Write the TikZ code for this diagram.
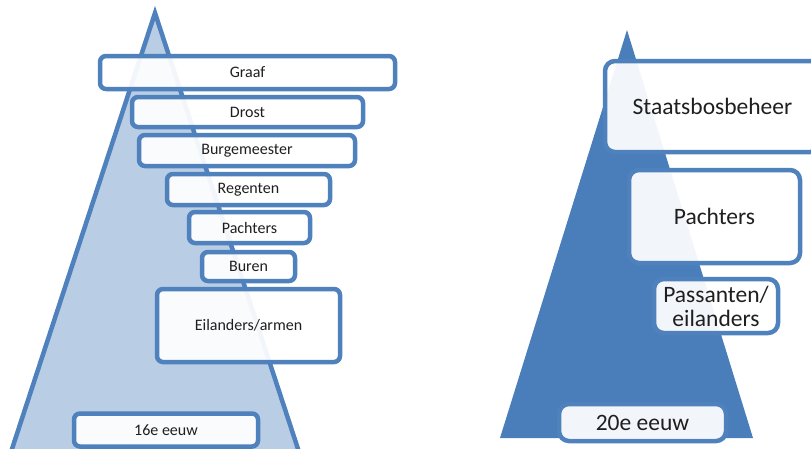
\documentclass[tikz,border=0pt]{standalone}
\usepackage{fontspec}
\setmainfont{Carlito}
\definecolor{bord}{HTML}{4F81BD}
\definecolor{lightfill}{HTML}{B9CDE5}
\definecolor{darkfill}{HTML}{4A7EBB}
\definecolor{txt}{HTML}{1F1F1F}
\tikzset{
  lbox/.style={draw=bord, line width=4.5pt, rounded corners=6pt, fill=white, fill opacity=0.93, text opacity=1, text=txt, font=\fontsize{16}{18}\selectfont, inner sep=0pt},
  rbox/.style={draw=bord, line width=4.5pt, rounded corners=10pt, fill=white, fill opacity=0.93, text opacity=1, text=txt, font=\fontsize{23.5}{24}\selectfont, inner sep=0pt, align=center},
  tri/.style={line width=4.5pt, line join=miter}
}
\begin{document}
\begin{tikzpicture}[x=1pt,y=-1pt]
\useasboundingbox (0,0) rectangle (811,448);
\clip (0,0) rectangle (811,448);
% left triangle
\coordinate (lapex) at (155,13);
\coordinate (lbl) at (11,452);
\coordinate (lbr) at (299,452);
\draw[tri, draw=bord, fill=lightfill] (lapex) -- (lbr) -- (lbl) -- cycle;
% right triangle
\coordinate (rapex) at (627,30);
\coordinate (rbl) at (500,438);
\coordinate (rbr) at (753,438);
\fill[darkfill] (rapex) -- (rbr) -- (rbl) -- cycle;
% left boxes
\node[lbox, minimum width=295pt, minimum height=33pt] (graaf) at (247.5,72.5) {Graaf};
\node[lbox, minimum width=231pt, minimum height=30pt] (drost) at (247.5,112) {Drost};
\node[lbox, minimum width=216pt, minimum height=31pt] (burg) at (247,150.5) {Burgemeester};
\node[lbox, minimum width=163pt, minimum height=31pt] (reg) at (248.5,189.5) {Regenten};
\node[lbox, minimum width=121pt, minimum height=31pt] (pachtL) at (249.5,227.5) {Pachters};
\node[lbox, minimum width=93pt, minimum height=29pt] (buren) at (248.5,266.5) {Buren};
\node[lbox, minimum width=183pt, minimum height=73pt] (eil) at (248.5,325.5) {Eilanders/armen};
\node[lbox, minimum width=184pt, minimum height=33pt] (e16) at (166,430) {16e eeuw};
% right boxes
\node[rbox, minimum width=215pt, minimum height=91pt] (sbb) at (712.5,106.5) {Staatsbosbeheer};
\node[rbox, minimum width=171pt, minimum height=93pt] (pachtR) at (714.5,216.5) {Pachters};
\node[rbox, minimum width=124pt, minimum height=54pt] (pass) at (716,306) {Passanten/\\eilanders};
\node[rbox, minimum width=167pt, minimum height=37pt] (e20) at (642.5,422.5) {20e eeuw};
\end{tikzpicture}
\end{document}
